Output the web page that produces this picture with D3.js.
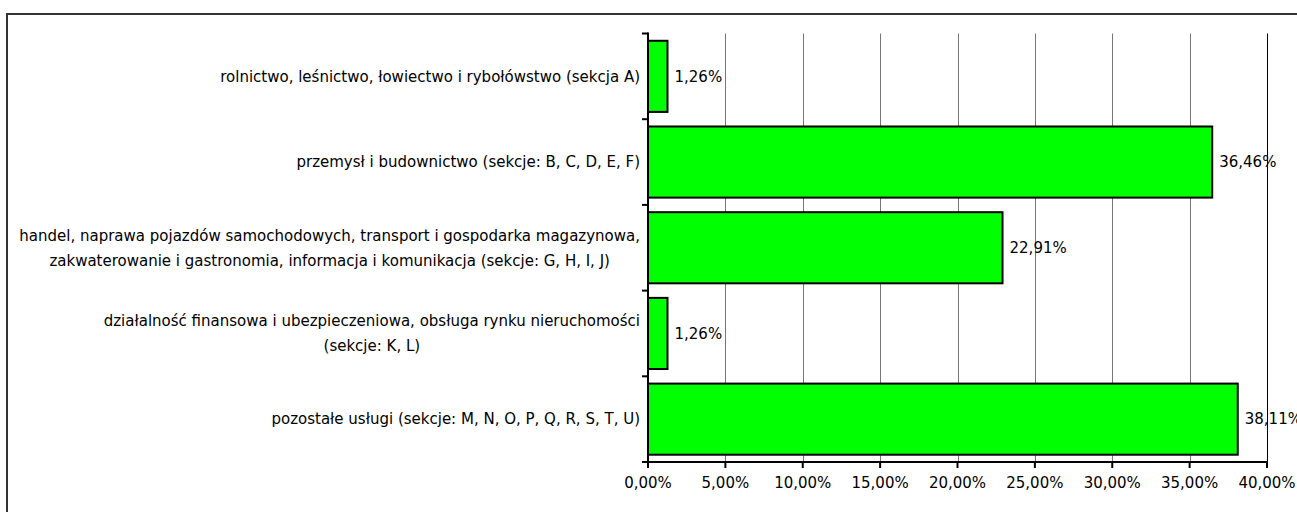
<!DOCTYPE html>
<html lang="pl">
<head>
<meta charset="utf-8">
<style>
  body { margin: 0; background: #fff; }
  svg text { font-family: "DejaVu Sans", Verdana, sans-serif; font-size: 15px; fill: #000; }
</style>
</head>
<body>
<svg id="chart" width="1297" height="512"></svg>
<script src="https://d3js.org/d3.v7.min.js"></script>
<script>
// data
var categories = [
  "rolnictwo, leśnictwo, łowiectwo i rybołówstwo (sekcja A)",
  "przemysł i budownictwo (sekcje: B, C, D, E, F)",
  "handel, naprawa pojazdów samochodowych, transport i gospodarka magazynowa,\nzakwaterowanie i gastronomia, informacja i komunikacja (sekcje: G, H, I, J)",
  "działalność finansowa i ubezpieczeniowa, obsługa rynku nieruchomości\n(sekcje: K, L)",
  "pozostałe usługi (sekcje: M, N, O, P, Q, R, S, T, U)"
];
var values = [1.26, 36.46, 22.91, 1.26, 38.11];
var xTicks = [0, 5, 10, 15, 20, 25, 30, 35, 40];

var svg = d3.select("#chart");
var plotLeft = 648, plotRight = 1267, plotTop = 33.5, plotBottom = 462;

var fmt = function(v) { return v.toFixed(2).replace(".", ",") + "%"; };

// outer frame
svg.append("rect")
  .attr("x", 7).attr("y", 14)
  .attr("width", 1400).attr("height", 600)
  .attr("fill", "none").attr("stroke", "#333").attr("stroke-width", 2);

var x = d3.scaleLinear().domain([0, 40]).range([plotLeft, plotRight]);
var y = d3.scaleBand().domain(categories).range([plotTop, plotBottom])
  .paddingInner(0.17).paddingOuter(0.085);

// vertical grid
svg.append("g").selectAll("line")
  .data(xTicks.slice(1))
  .join("line")
    .attr("x1", function(d) { return Math.round(x(d)) + 0.5; })
    .attr("x2", function(d) { return Math.round(x(d)) + 0.5; })
    .attr("y1", plotTop).attr("y2", plotBottom)
    .attr("stroke", function(d) { return d === 40 ? "#000" : "#777"; })
    .attr("stroke-width", 1);

// bars
svg.append("g").selectAll("rect")
  .data(values)
  .join("rect")
    .attr("x", x(0))
    .attr("y", function(d, i) { return y(categories[i]); })
    .attr("width", function(d) { return x(d) - x(0); })
    .attr("height", y.bandwidth())
    .attr("fill", "#00ff00")
    .attr("stroke", "#000")
    .attr("stroke-width", 2);

// value labels
svg.append("g").selectAll("text")
  .data(values)
  .join("text")
    .attr("x", function(d) { return x(d) + 7; })
    .attr("y", function(d, i) { return y(categories[i]) + y.bandwidth() / 2; })
    .attr("dy", "0.35em")
    .text(fmt);

// y axis: line + ticks at band boundaries
var step = y.step();
svg.append("line")
  .attr("x1", plotLeft).attr("x2", plotLeft)
  .attr("y1", plotTop - 1).attr("y2", plotBottom)
  .attr("stroke", "#000").attr("stroke-width", 2);
svg.append("g").selectAll("line")
  .data(d3.range(categories.length + 1))
  .join("line")
    .attr("x1", plotLeft - 6).attr("x2", plotLeft)
    .attr("y1", function(i) { return plotTop + i * step; })
    .attr("y2", function(i) { return plotTop + i * step; })
    .attr("stroke", "#000").attr("stroke-width", 2);

// category labels, centred block aligned right
var lab = svg.append("g");
categories.forEach(function(c) {
  var lines = c.split("\n");
  var g = lab.append("g");
  var ts = g.selectAll("text").data(lines).join("text")
    .attr("y", function(d, j) { return y(c) + y.bandwidth() / 2 + (j - (lines.length - 1) / 2) * 25; })
    .attr("dy", "0.35em")
    .attr("text-anchor", "middle")
    .text(function(d) { return d; });
  var w = d3.max(ts.nodes(), function(n) { return n.getComputedTextLength(); });
  ts.attr("x", plotLeft - 8 - w / 2);
});

// x axis
svg.append("line")
  .attr("x1", plotLeft - 6).attr("x2", plotRight + 1)
  .attr("y1", plotBottom).attr("y2", plotBottom)
  .attr("stroke", "#000").attr("stroke-width", 2);
svg.append("g").selectAll("line")
  .data(xTicks)
  .join("line")
    .attr("x1", function(d) { return x(d); })
    .attr("x2", function(d) { return x(d); })
    .attr("y1", plotBottom).attr("y2", plotBottom + 6)
    .attr("stroke", "#000").attr("stroke-width", 2);
svg.append("g").selectAll("text")
  .data(xTicks)
  .join("text")
    .attr("x", function(d) { return x(d); })
    .attr("y", plotBottom + 21)
    .attr("dy", "0.35em")
    .attr("text-anchor", "middle")
    .text(fmt);
</script>
</body>
</html>
